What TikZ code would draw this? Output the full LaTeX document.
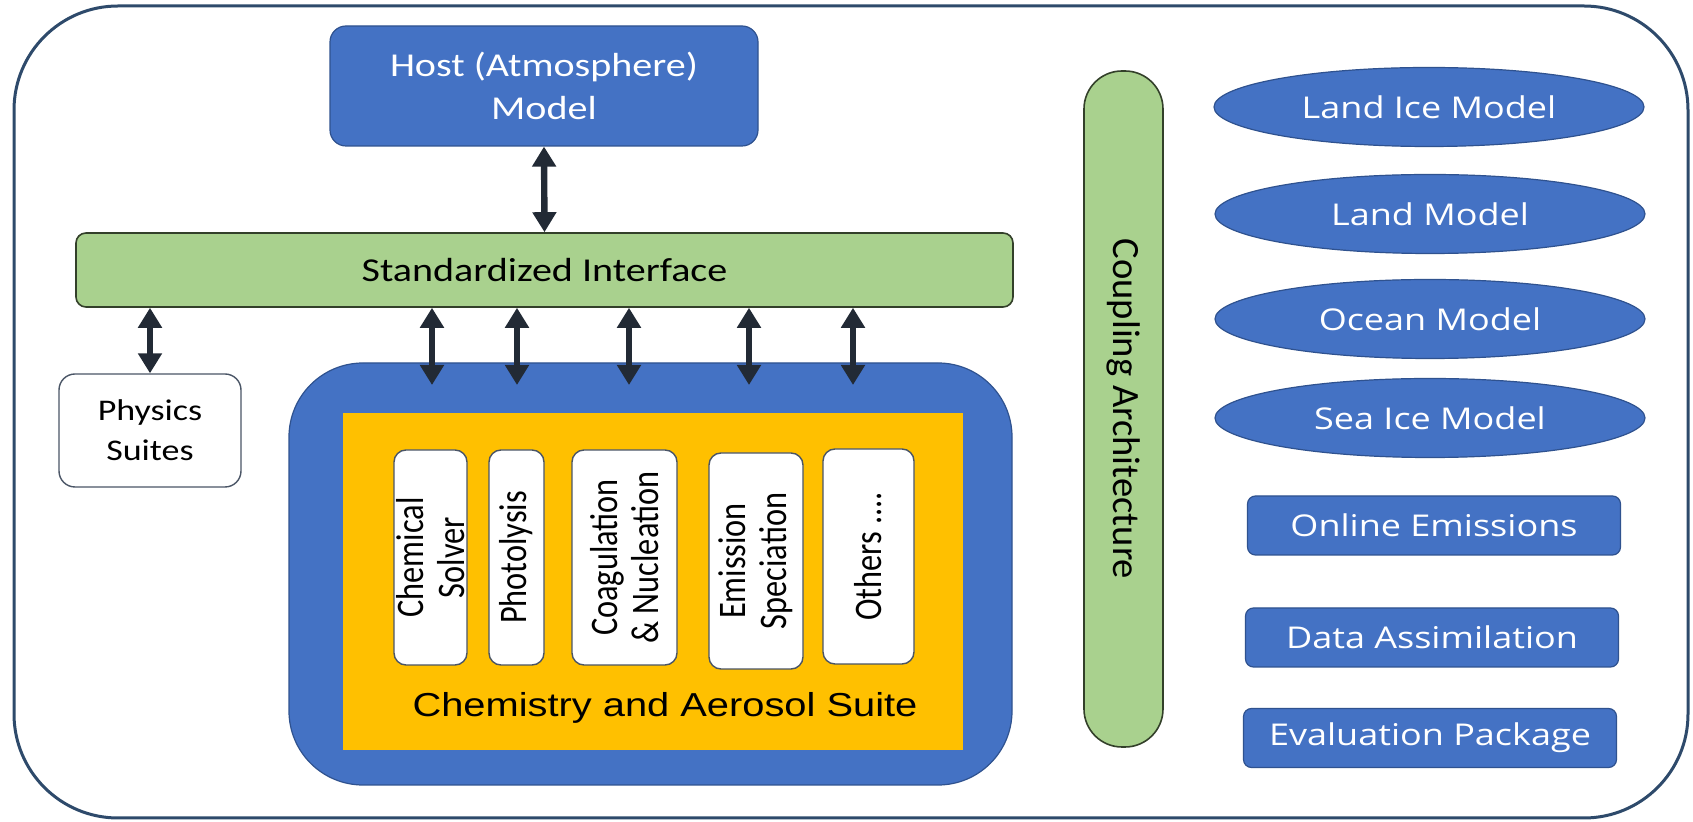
\documentclass[tikz,border=0pt]{standalone}
\usepackage{fontspec}
\setmainfont{Carlito}[FakeStretch=1.2]
\newfontfamily\carlrot{Carlito}[FakeStretch=0.83]
\newfontfamily\carlplain{Carlito}
\newfontfamily\osans{Open Sans}[FakeStretch=1.2]
\newfontfamily\arialf{Liberation Sans}[FakeStretch=1.2]
\usetikzlibrary{arrows.meta,shapes.geometric}
\definecolor{cblue}{HTML}{4472C4}
\definecolor{cblueb}{HTML}{2F528F}
\definecolor{cgreen}{HTML}{A9D18E}
\definecolor{cgreenb}{HTML}{33402A}
\definecolor{cyellow}{HTML}{FFC000}
\definecolor{cnavy}{HTML}{222A35}
\definecolor{cframe}{HTML}{2E4A6B}
\definecolor{cgray}{HTML}{4A5566}
\begin{document}
\begin{tikzpicture}[x=0.5pt,y=-0.5pt,
  every node/.style={inner sep=0pt, align=center},
  bluebox/.style={draw=cblueb, line width=0.6pt, fill=cblue, text=white, rounded corners=8pt},
  greenbox/.style={draw=cgreenb, line width=0.8pt, fill=cgreen, text=black},
  modbox/.style={draw=cgray, line width=0.7pt, fill=white, rounded corners=6pt, rotate=90,
    minimum width=107.5pt, font=\carlrot\fontsize{19.5}{20.5}\selectfont},
  oval/.style={ellipse, draw=cblueb, line width=0.6pt, fill=cblue, text=white,
    minimum width=215pt, minimum height=39.5pt, font=\osans\fontsize{15}{18}\selectfont},
  sidebox/.style={bluebox, rounded corners=4pt, minimum width=186.5pt, minimum height=29.5pt,
    font=\osans\fontsize{15}{18}\selectfont},
  dbl/.style={draw=cnavy, line width=3.2pt,
    {Triangle[width=11.5pt,length=10pt]}-{Triangle[width=11.5pt,length=10pt]}}
]
\useasboundingbox (0,0) rectangle (1693,822);
\fill[white] (0,0) rectangle (1693,822);
% outer frame
\draw[cframe, line width=1.5pt, rounded corners=52pt] (14,6) rectangle (1688,818);

% host model
\node[bluebox, minimum width=214pt, minimum height=60pt,
  font=\fontsize{16.7}{21.5}\selectfont] (host) at (544,86) {Host (Atmosphere)\\Model};
% interface
\node[greenbox, rounded corners=5pt, minimum width=468.5pt, minimum height=37pt,
  font=\fontsize{16.7}{20}\selectfont] (iface) at (544.5,270) {Standardized Interface};
% physics
\node[draw=cgray, line width=0.7pt, fill=white, rounded corners=8pt, minimum width=91pt,
  minimum height=56.5pt, font=\fontsize{15}{20}\selectfont] (phys) at (150,430.5) {Physics\\Suites};

% chemistry suite
\node[fill=cblue, draw=cblueb, line width=0.6pt, rounded corners=37pt, minimum width=361.5pt,
  minimum height=211pt] (chem) at (650.5,574) {};
\node[fill=cyellow, minimum width=310pt, minimum height=168.5pt] (yel) at (653,581.5) {};
\node[modbox, minimum height=36.5pt] (m1) at (430.5,557.5) {Chemical\\Solver};
\node[modbox, minimum height=27.5pt] (m2) at (516.5,557.5) {Photolysis};
\node[modbox, minimum height=52.5pt] (m3) at (624.5,557.5) {Coagulation\\\& Nucleation};
\node[modbox, minimum height=47pt, minimum width=108pt] (m4) at (756,561) {Emission\\Speciation};
\node[modbox, minimum height=45.5pt] (m5) at (868.5,556.5) {Others ....};
\node[anchor=base, font=\arialf\fontsize{16.6}{20}\selectfont] (suite) at (665,717)
  {Chemistry and Aerosol Suite};

% arrow end points inside the chemistry box
\coordinate (t1) at (432,385);
\coordinate (t2) at (517,385);
\coordinate (t3) at (629,385);
\coordinate (t4) at (749,385);
\coordinate (t5) at (853,385);

% connectors
\draw[dbl] (host.south) -- (iface.north);
\draw[dbl] (iface.south -| phys.north) -- (phys.north);
\draw[dbl] (iface.south -| t1) -- (t1);
\draw[dbl] (iface.south -| t2) -- (t2);
\draw[dbl] (iface.south -| t3) -- (t3);
\draw[dbl] (iface.south -| t4) -- (t4);
\draw[dbl] (iface.south -| t5) -- (t5);

% coupling architecture
\node[greenbox, rotate=-90, rounded corners=19pt, minimum width=338pt, minimum height=39.5pt,
  font=\carlplain\fontsize{19.3}{20}\selectfont] (coup) at (1123.5,409) {Coupling Architecture};

% component models
\node[oval] (e1) at (1429,107) {Land Ice Model};
\node[oval] (e2) at (1430,214) {Land Model};
\node[oval] (e3) at (1430,319) {Ocean Model};
\node[oval] (e4) at (1430,418) {Sea Ice Model};
\node[sidebox] (r1) at (1434,525.5) {Online Emissions};
\node[sidebox] (r2) at (1432,637.5) {Data Assimilation};
\node[sidebox] (r3) at (1430,738) {Evaluation Package};
\end{tikzpicture}
\end{document}
